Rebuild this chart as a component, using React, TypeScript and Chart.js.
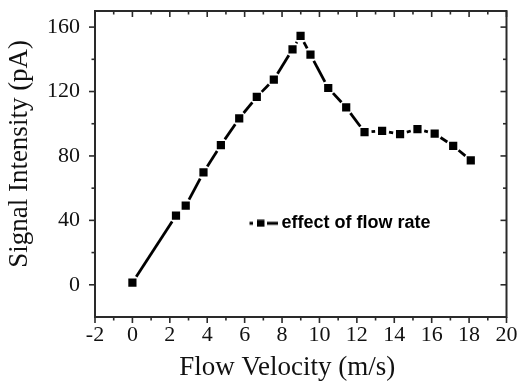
import { useEffect, useRef } from 'react';
import { Chart, registerables } from 'chart.js';

Chart.register(...registerables);

// ---- data ----
const flowVelocity = [0, 2.33, 2.85, 3.8, 4.73, 5.71, 6.65, 7.56, 8.56, 8.99, 9.52, 10.47, 11.43, 12.41, 13.35, 14.31, 15.24, 16.16, 17.15, 18.09];
const signalIntensity = [1.4, 42.9, 49.1, 69.8, 86.7, 103.3, 116.7, 127.4, 146.2, 154.5, 142.9, 122.2, 110.1, 94.8, 95.6, 93.6, 96.7, 93.8, 86.3, 77.3];
const seriesLabel = 'effect of flow rate';

const xTickValues = [-2, 0, 2, 4, 6, 8, 10, 12, 14, 16, 18, 20];
const xMinorTickValues = [-1, 1, 3, 5, 7, 9, 11, 13, 15, 17, 19];
const yTickValues = [0, 40, 80, 120, 160];
const yMinorTickValues = [20, 60, 100, 140];

const xTitle = 'Flow Velocity (m/s)    ';
const yTitle = '   Signal Intensity (pA)';

const SERIF = "'Liberation Serif', 'Times New Roman', serif";
const SANS = "'Liberation Sans', Arial, sans-serif";
const SYMBOL_GAP = 7;

function segLen(ctx: any) {
  const dx = ctx.p1.x - ctx.p0.x;
  const dy = ctx.p1.y - ctx.p0.y;
  return Math.sqrt(dx * dx + dy * dy);
}

function makeLegendSymbol() {
  const c = document.createElement('canvas');
  c.width = 34;
  c.height = 8;
  const g = c.getContext('2d')!;
  g.fillStyle = '#000';
  g.fillRect(0, 2.5, 9, 3);
  g.fillRect(13, 0.5, 7.5, 7);
  g.fillRect(23, 2.5, 11, 3);
  return c;
}

const axisDecor = {
  id: 'axisDecor',
  afterDatasetsDraw(chart: any) {
    const { ctx, chartArea: a, scales } = chart;
    const x = scales.x;
    const y = scales.y;
    const MAJOR = 6;
    const MINOR = 3.5;
    ctx.save();
    ctx.strokeStyle = '#2a2a2a';
    ctx.lineWidth = 2;
    ctx.strokeRect(a.left, a.top, a.right - a.left, a.bottom - a.top);
    ctx.lineWidth = 1.6;
    const line = (x0: number, y0: number, x1: number, y1: number) => {
      ctx.beginPath();
      ctx.moveTo(x0, y0);
      ctx.lineTo(x1, y1);
      ctx.stroke();
    };
    const xt = (v: number, len: number) => {
      const p = x.getPixelForValue(v);
      line(p, a.bottom, p, a.bottom + len);
      line(p, a.top, p, a.top + len);
    };
    const yt = (v: number, len: number) => {
      const p = y.getPixelForValue(v);
      line(a.left - len, p, a.left, p);
      line(a.right - len, p, a.right, p);
    };
    xTickValues.forEach((v) => xt(v, MAJOR));
    xMinorTickValues.forEach((v) => xt(v, MINOR));
    yTickValues.forEach((v) => yt(v, MAJOR));
    yMinorTickValues.forEach((v) => yt(v, MINOR));
    ctx.restore();
  },
};

const legendPlacer = {
  id: 'legendPlacer',
  afterLayout(chart: any) {
    const lg = chart.legend;
    if (!lg) return;
    lg.left = 249.5;
    lg.top = 214.3;
    lg.right = 520;
    lg.bottom = 245;
  },
};

export default function App() {
  const ref = useRef<HTMLCanvasElement | null>(null);

  useEffect(() => {
    if (!ref.current) return;
    const symbol = makeLegendSymbol();
    const chart = new Chart(ref.current, {
      type: 'line',
      data: {
        datasets: [
          {
            label: seriesLabel,
            data: flowVelocity.map((v, i) => ({ x: v, y: signalIntensity[i] })),
            borderColor: '#000',
            backgroundColor: '#000',
            borderWidth: 2.8,
            borderCapStyle: 'butt',
            tension: 0,
            pointStyle: 'rect',
            pointRadius: 5.8,
            pointBorderWidth: 0,
            pointBackgroundColor: '#000',
            segment: {
              borderDash: (ctx: any) => {
                const L = segLen(ctx);
                return [Math.max(L - 2 * SYMBOL_GAP, 0), L + 100];
              },
              borderDashOffset: (ctx: any) => {
                const L = segLen(ctx);
                const d = Math.max(L - 2 * SYMBOL_GAP, 0);
                return d + L + 100 - SYMBOL_GAP;
              },
            },
          } as any,
        ],
      },
      options: {
        animation: false,
        responsive: false,
        events: [],
        layout: { padding: { left: 0, top: 11, right: 15.5, bottom: 0 } },
        scales: {
          x: {
            type: 'linear',
            min: -2,
            max: 20,
            grid: { display: false, drawTicks: true, tickLength: 5 },
            border: { display: false },
            afterBuildTicks: (s: any) => {
              s.ticks = xTickValues.map((v) => ({ value: v }));
            },
            afterFit: (s: any) => {
              s.height = 64;
            },
            ticks: {
              autoSkip: false,
              maxRotation: 0,
              padding: 0,
              color: '#111',
              font: { family: SERIF, size: 22 },
            },
            title: {
              display: true,
              text: xTitle,
              color: '#111',
              font: { family: SERIF, size: 27, lineHeight: 1 },
              padding: { top: 0, bottom: 0 },
            },
          },
          y: {
            type: 'linear',
            min: -20,
            max: 170,
            grid: { display: false, drawTicks: true, tickLength: 15 },
            border: { display: false },
            afterBuildTicks: (s: any) => {
              s.ticks = yTickValues.map((v) => ({ value: v }));
            },
            afterFit: (s: any) => {
              s.width = 95;
            },
            ticks: {
              autoSkip: false,
              padding: 0,
              color: '#111',
              font: { family: SERIF, size: 22, lineHeight: 1 },
            },
            title: {
              display: true,
              text: yTitle,
              color: '#111',
              font: { family: SERIF, size: 27, lineHeight: 1 },
              padding: { top: 6, bottom: 0 },
            },
          },
        },
        plugins: {
          legend: {
            display: true,
            position: 'chartArea',
            fullSize: false,
            align: 'start',
            labels: {
              usePointStyle: true,
              pointStyleWidth: 23,
              padding: 0,
              color: '#000',
              font: { family: SANS, size: 18, weight: 'bold' },
              generateLabels: (c: any) =>
                c.data.datasets.map((ds: any, i: number) => ({
                  text: ds.label,
                  pointStyle: symbol,
                  fillStyle: '#000',
                  strokeStyle: '#000',
                  lineWidth: 0,
                  hidden: false,
                  datasetIndex: i,
                })),
            },
          },
          tooltip: { enabled: false },
        },
      } as any,
      plugins: [axisDecor, legendPlacer],
    });
    return () => chart.destroy();
  }, []);

  return (
    <div style={{ position: 'absolute', left: 0, top: 0, width: 522, height: 381 }}>
      <canvas ref={ref} width={522} height={381} style={{ display: 'block' }} />
    </div>
  );
}
